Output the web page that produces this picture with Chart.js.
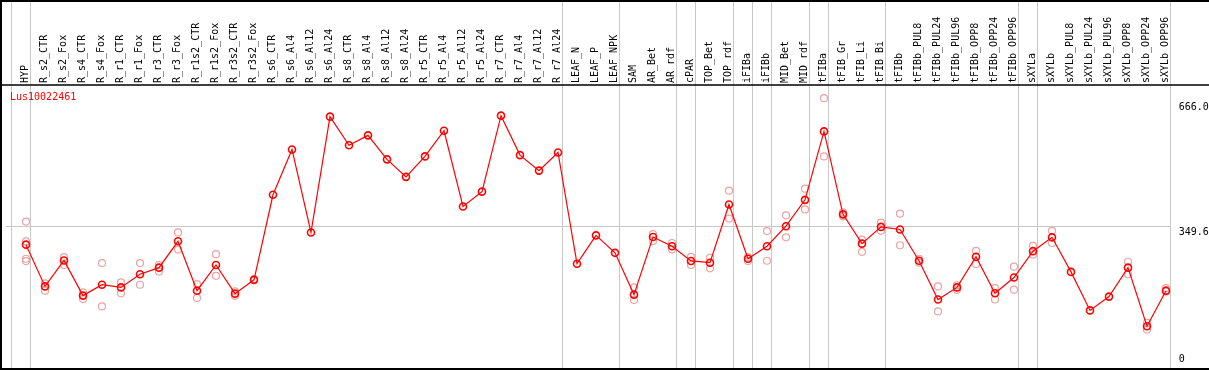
<!DOCTYPE html>
<html>
<head>
  <title>Lus10022461 expression</title>
  <script src="https://cdn.jsdelivr.net/npm/chart.js"></script>
  <style>
    body { margin: 0; background: #fff; }
    canvas { display: block; }
  </style>
</head>
<body>
  <canvas id="expr" width="1209" height="370"></canvas>
  <script>
    const geneName = "Lus10022461";

    const samples = [
      "HYP", "R_s2_CTR", "R_s2_Fox", "R_s4_CTR", "R_s4_Fox", "R_r1_CTR", "R_r1_Fox", "R_r3_CTR", "R_r3_Fox",
      "R_r1s2_CTR", "R_r1s2_Fox", "R_r3s2_CTR", "R_r3s2_Fox", "R_s6_CTR", "R_s6_Al4", "R_s6_Al12", "R_s6_Al24",
      "R_s8_CTR", "R_s8_Al4", "R_s8_Al12", "R_s8_Al24", "R_r5_CTR", "R_r5_Al4", "R_r5_Al12", "R_r5_Al24",
      "R_r7_CTR", "R_r7_Al4", "R_r7_Al12", "R_r7_Al24", "LEAF_N", "LEAF_P", "LEAF_NPK", "SAM", "AR_Bet", "AR_rdf",
      "cPAR", "TOP_Bet", "TOP_rdf", "iFIBa", "iFIBb", "MID_Bet", "MID_rdf", "tFIBa", "tFIB_Gr", "tFIB_Li", "tFIB_Bi",
      "tFIBb", "tFIBb_PUL8", "tFIBb_PUL24", "tFIBb_PUL96", "tFIBb_OPP8", "tFIBb_OPP24", "tFIBb_OPP96",
      "sXYLa", "sXYLb", "sXYLb_PUL8", "sXYLb_PUL24", "sXYLb_PUL96", "sXYLb_OPP8", "sXYLb_OPP24", "sXYLb_OPP96"
    ];

    // mean expression per sample
    const meanVals = [
      302.9, 197.3, 262.9, 174.0, 201.5, 194.8, 228.0, 244.7, 311.4,
      186.5, 251.4, 179.0, 214.0, 429.0, 543.6, 333.8, 626.7,
      554.3, 579.3, 518.6, 474.4, 526.1, 591.0, 399.5, 437.0,
      629.2, 529.4, 490.2, 536.1, 254.7, 326.4, 282.2, 176.5, 322.1, 298.9,
      261.7, 257.2, 404.5, 267.2, 298.9, 349.6, 416.2, 589.3, 379.5, 305.4, 347.8,
      341.3, 262.2, 164.1, 194.8, 272.2, 179.8, 219.7,
      286.4, 321.4, 234.0, 136.6, 171.5, 244.7, 96.6, 186.5
    ];

    // individual replicates (null where none shows)
    const repA = [
      361.3, 204.8, 271.4, 182.3, 256.4, 207.3, 256.4, 251.4, 333.9,
      203.0, 278.9, 184.8, 216.0, null, null, null, null,
      null, null, null, null, null, null, null, null,
      null, null, null, null, null, null, null, 194.8, 329.6, 307.1,
      272.2, 269.7, 439.5, 271.4, 337.1, 377.0, 444.5, 673.4, 384.5, 315.4, 358.8,
      381.3, 267.2, 197.3, 199.8, 287.2, 193.0, 247.2,
      299.6, 337.8, null, null, null, 259.7, 104.9, 193.0
    ];
    const repB = [
      311.4, 186.5, 251.4, 165.6, 146.6, 179.8, 201.5, 234.7, 290.4,
      168.1, 224.0, 173.5, 212.0, null, null, null, null,
      null, null, null, null, null, null, null, null,
      null, null, null, null, null, null, null, 163.1, 312.1, 291.0,
      251.4, 243.0, 368.8, 261.4, 262.2, 321.4, 392.0, 526.1, 374.5, 284.7, 337.8,
      301.4, 257.2, 134.1, 188.5, 254.0, 164.1, 189.0,
      277.9, 307.1, null, null, null, 228.0, 88.1, 184.0
    ];
    const repC = [267.2];
    const repD = [261.4];

    // last column of each sample group (-1 = left edge)
    const groupEnds = [-1, 0, 28, 31, 34, 35, 37, 38, 39, 41, 42, 45, 52, 53, 60];

    const yTicks = [0, 349.6, 666.0];
    const yTickLabels = ["0", "349.6", "666.0"];

    const MONO = "'DejaVu Sans Mono', monospace";
    const colOffset = 4 / 19;

    function toPoints(vals) {
      return vals.map((v, i) => v == null ? null : { x: i, y: v }).filter(p => p);
    }

    function repSet(vals) {
      return {
        data: toPoints(vals),
        showLine: false,
        pointRadius: 3.5,
        pointBorderWidth: 1.2,
        pointBorderColor: '#eba3a3',
        pointBackgroundColor: 'rgba(0,0,0,0)',
        order: 1
      };
    }

    const framePlugin = {
      id: 'frame',
      beforeDatasetsDraw(chart) {
        const ctx = chart.ctx, x = chart.scales.x;
        ctx.save();
        ctx.strokeStyle = '#c8c8c8';
        ctx.lineWidth = 1;
        groupEnds.forEach(g => {
          const px = Math.round(x.getPixelForValue(g + colOffset)) + 0.5;
          ctx.beginPath();
          ctx.moveTo(px, 0);
          ctx.lineTo(px, chart.height);
          ctx.stroke();
        });
        ctx.restore();
      },
      afterDraw(chart) {
        const ctx = chart.ctx, y = chart.scales.y, area = chart.chartArea;
        ctx.save();
        ctx.strokeStyle = '#000';
        ctx.lineWidth = 2;
        ctx.beginPath();
        ctx.moveTo(0, 1); ctx.lineTo(chart.width, 1);
        ctx.moveTo(1, 0); ctx.lineTo(1, chart.height);
        ctx.moveTo(0, 369); ctx.lineTo(chart.width, 369);
        ctx.stroke();
        ctx.lineWidth = 1.5;
        ctx.beginPath();
        ctx.moveTo(0, area.top); ctx.lineTo(chart.width, area.top);
        ctx.stroke();

        ctx.font = '10px ' + MONO;
        ctx.textBaseline = 'top';
        ctx.fillStyle = '#f00';
        ctx.fillText(geneName, 10, 92);

        ctx.fillStyle = '#000';
        yTicks.forEach((v, i) => {
          const py = y.getPixelForValue(v);
          const top = v === 0 ? py - 10 : py + 1;
          ctx.fillText(yTickLabels[i], area.right + 8, top);
        });
        ctx.restore();
      }
    };

    new Chart(document.getElementById('expr'), {
      type: 'scatter',
      data: {
        datasets: [
          {
            label: geneName,
            data: toPoints(meanVals),
            showLine: true,
            borderColor: '#f00',
            borderWidth: 1.2,
            pointRadius: 3.5,
            pointBorderWidth: 1.6,
            pointBorderColor: '#f00',
            pointBackgroundColor: 'rgba(0,0,0,0)',
            order: 0
          },
          repSet(repA),
          repSet(repB),
          repSet(repC),
          repSet(repD)
        ]
      },
      options: {
        responsive: false,
        animation: false,
        layout: { padding: { top: 0, left: 6, right: 38.25, bottom: 2 } },
        plugins: { legend: { display: false }, tooltip: { enabled: false } },
        scales: {
          x: {
            type: 'linear',
            position: 'top',
            min: -20 / 19,
            max: 60.25,
            afterBuildTicks: s => { s.ticks = samples.map((_, i) => ({ value: i })); },
            afterFit: s => {
              s.height = 85;
              s.paddingLeft = 0;
              s.paddingRight = 0;
            },
            grid: { display: false, drawTicks: false },
            border: { display: false },
            ticks: {
              autoSkip: false,
              minRotation: 90,
              maxRotation: 90,
              padding: 2,
              labelOffset: 11.5,
              color: '#000',
              font: { family: MONO, size: 10 },
              callback: v => samples[v]
            }
          },
          y: {
            position: 'right',
            min: 0,
            max: 706.7,
            afterBuildTicks: s => { s.ticks = yTicks.map(v => ({ value: v })); },
            afterFit: s => { s.width = 0; },
            border: { display: false },
            grid: {
              drawTicks: false,
              color: c => c.tick && c.tick.value === 349.6 ? '#c8c8c8' : 'rgba(0,0,0,0)'
            },
            ticks: { display: false }
          }
        }
      },
      plugins: [framePlugin]
    });
  </script>
</body>
</html>
